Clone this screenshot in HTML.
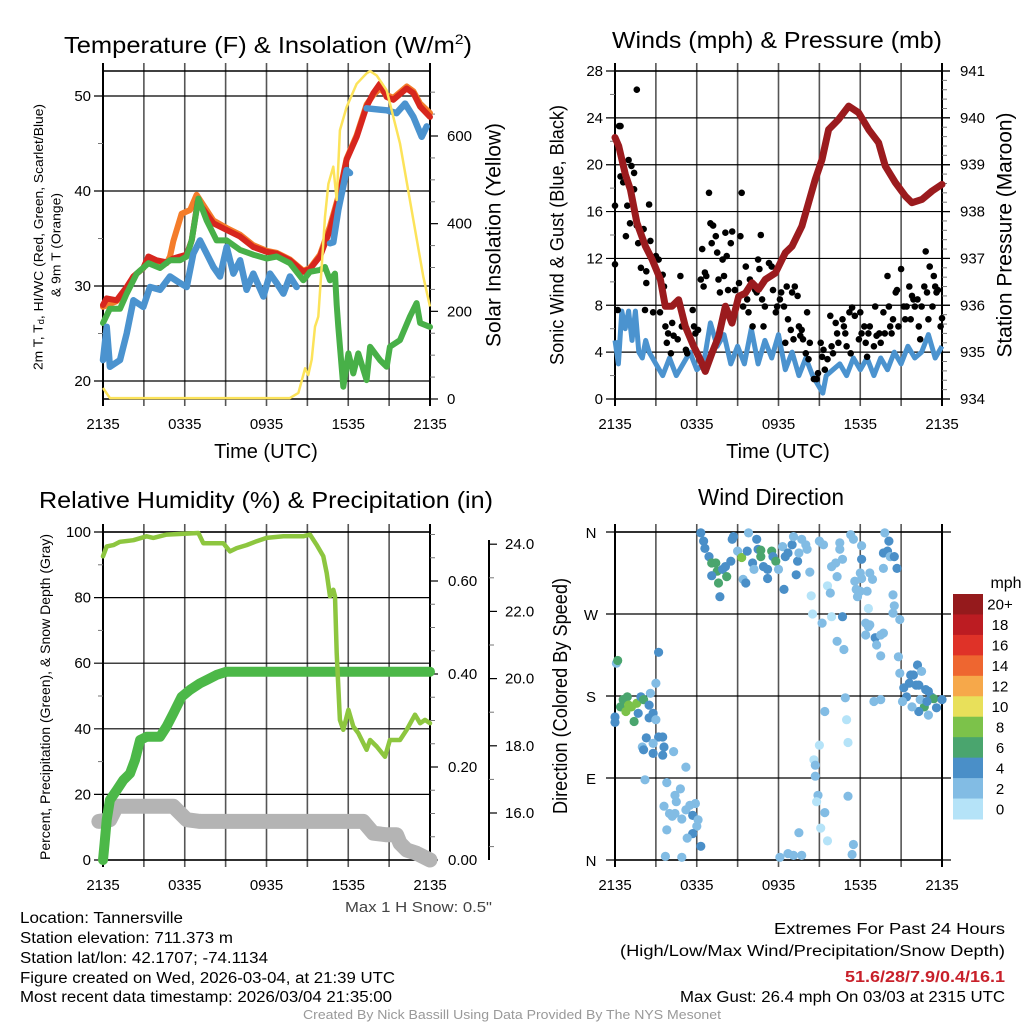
<!DOCTYPE html>
<html><head><meta charset="utf-8"><title>Mesonet Meteogram - Tannersville</title>
<style>
html,body{margin:0;padding:0;background:#fff;}
svg{display:block;font-family:"Liberation Sans",Arial,sans-serif;}
</style></head>
<body>
<svg id="chart" xmlns="http://www.w3.org/2000/svg" width="1024" height="1024" viewBox="0 0 1024 1024">
<rect x="0" y="0" width="1024" height="1024" fill="#ffffff"/>
</svg>
<script>
// ===== Data: temperature panel (time in hours since 2135 UTC) =====
const tempT=[0,.27,1.0,1.74,2.23,2.96,3.33,3.94,4.67,5.16,5.65,6.14,6.51,6.95,8.1,9.08,10.06,11.03,12.01,12.75,13.72,14.7,15.19,15.93,16.66,17.39,17.88,18.62,19.35,19.84,20.33,20.82,21.31,22.29,22.78,23.27,24];
const tempV=[28.0,28.7,28.5,29.9,31.0,31.9,33.1,32.7,32.5,32.9,33.1,33.3,34.8,38.9,36.6,35.9,35.2,34.1,33.6,33.4,32.7,31.5,31.8,33.1,35.9,39.8,43.3,45.7,48.9,50.3,51.3,49.9,49.6,50.8,50.3,48.9,47.8];
const t9T=[0,1.0,1.74,2.23,2.96,3.33,3.94,4.67,4.92,5.16,5.77,6.39,6.87,8.1,9.08,10.06,11.03,12.01,12.75,13.72,14.7,15.19,15.93,16.66,17.39,17.88,18.62,19.35,19.84,20.33,20.82,21.31,22.29,22.78,23.27,24];
const t9V=[27.8,28.4,29.8,31.0,31.9,33.0,32.6,32.4,33.1,34.7,37.6,38.0,39.6,36.9,36.1,35.4,34.3,33.7,33.5,32.8,31.6,31.9,33.3,36.3,40.0,43.4,45.9,49.1,50.1,50.8,50.1,49.8,51.0,50.5,49.2,48.2];
const tdT=[0,.51,1.25,1.74,2.47,3.33,4.18,4.92,5.65,6.14,6.51,7.0,7.61,8.34,9.08,10.06,11.03,12.01,12.75,13.72,14.7,15.19,15.93,16.29,16.66,17.03,17.15,17.27,17.64,18.01,18.37,18.74,19.35,19.6,20.33,20.82,21.06,21.8,22.53,23.02,23.27,24];
const tdV=[26.1,27.6,27.6,29.2,31.3,32.4,31.9,32.7,32.7,33.1,34.8,39.2,36.9,34.8,34.8,33.8,33.3,32.9,33.1,32.4,30.6,31.5,31.7,32.0,30.6,31.3,28,25.7,19.4,22.9,20.8,22.9,20.1,23.6,22.2,21.5,23.6,24.3,26.8,28.2,26.1,25.7];
const wcT=[0,.27,.51,1.25,1.74,2.23,2.96,3.45,4.18,4.92,5.65,6.14,6.63,7.12,7.61,8.1,8.59,9.08,9.57,10.06,10.54,11.03,11.77,12.26,12.75,13.24,13.72,14.21,14.5,16.66,16.9,17.27,17.88,18.13,18.5,19.35,20.82,21.55,22.17,22.78,23.39,23.76];
const wcV=[22.2,25.7,21.5,22.2,25.0,28.5,27.8,29.9,29.6,31.0,30.3,29.9,33.4,34.8,33.4,32.0,31.0,34.1,31.3,32.7,29.6,31.3,28.9,31.3,30.3,29.2,31.0,29.9,null,34.5,34.6,38.0,42.2,41.9,null,48.7,48.5,48.2,49.2,47.8,45.7,46.8];
const solarT=[0,.51,13.72,14.34,14.83,15.07,15.32,15.56,15.8,16.05,16.29,16.54,16.9,17.15,17.39,17.88,18.62,19.35,19.6,20.09,20.82,21.8,22.78,23.51,24];
const solarV=[25,2,2,14,70,55,90,165,188,302,416,491,530,454,613,666,719,743,748,738,704,583,408,279,211];
// ===== Data: wind / pressure panel =====
const presT=[0,.27,.76,1.13,1.61,2.23,2.72,3.33,3.69,4.18,4.67,5.16,5.77,6.26,6.63,7.12,7.61,8.1,8.59,9.08,9.57,10.06,10.54,11.03,11.77,12.5,13,13.72,14.21,14.7,15.19,15.68,16.42,17.15,17.88,18.62,19.35,19.84,20.57,21.31,21.8,22.53,23.27,24];
const presV=[939.58,939.4,938.79,938.47,937.76,937.26,936.98,936.55,935.98,935.98,936.12,935.55,935.13,934.84,934.59,934.98,935.34,935.98,935.62,936.19,936.26,936.48,936.34,936.55,936.69,937.12,937.26,937.69,938.19,938.69,939.11,939.75,939.97,940.25,940.11,939.75,939.47,938.97,938.62,938.33,938.19,938.26,938.44,938.58];
const windT=[0,.25,.5,.75,1,1.25,1.5,1.75,2,2.25,2.5,3,3.5,4,4.5,5,5.5,6,6.5,7,7.5,8,8.5,9,9.5,10,10.5,11,11.5,12,12.5,13,13.5,14,14.5,15,15.25,15.5,16,16.5,17,17.5,18,18.5,19,19.5,20,20.5,21,21.5,22,22.5,23,23.5,24];
const windV=[5,3,7.5,6,7.5,5,7.5,4,3.5,5,4,3,2,3.5,2,3,4,2.5,3,6.5,4.5,5.5,3,4.5,3,6,3,5,3.5,5.5,2.5,4,2,3.5,2,1,0.5,2,2.5,3,2,3.5,2.5,3.5,2,3.5,2.5,4,3,4.5,3.5,4,5.5,3.5,4.5];
const gustT=[0,0,.2,.3,.4,.4,.6,1,1.2,1.4,1.6,1.4,.9,.8,1.1,1.6,1.7,1.9,2.1,2.2,2.3,2.3,2.5,2.6,2.8,3,3.2,3.3,3.5,3.6,3.7,3.8,3.9,4.1,4.2,4.3,4.6,4.8,4.9,5.2,5.3,5.7,5.8,5.9,6.1,6.3,6.4,6.5,6.6,6.7,6.9,7,7.1,7.2,7.4,7.5,7.6,7.7,7.9,8,8.1,8.2,8.3,8.5,8.6,8.8,9.1,9.2,9.3,9.4,9.6,9.7,9.8,9.9,10.1,10.3,10.4,10.5,10.6,10.7,10.8,10.9,11,11.3,11.5,11.6,11.8,11.9,12.1,12.2,12.4,12.5,12.6,12.7,12.9,13,13.1,13.2,13.4,13.5,13.6,13.7,13.8,14,14.1,14.2,14.3,14.6,14.8,14.9,15.1,15.2,15.3,15.4,15.6,15.8,15.9,16,16.2,16.3,16.4,16.7,16.8,16.9,17,17.2,17.3,17.4,17.6,17.9,18,18.1,18.3,18.4,18.5,18.6,18.7,19,19.1,19.2,19.4,19.5,19.7,19.8,20,20.1,20.2,20.3,20.4,20.6,20.7,20.8,21,21.2,21.3,21.4,21.6,21.7,21.8,21.9,22,22.2,22.3,22.4,22.5,22.7,22.8,22.9,23,23.1,23.3,23.4,23.5,23.6,23.7,23.9,24];
const gustV=[16.5,11.5,7.6,23.3,23.3,19,18.5,20.4,19.9,19.3,26.4,17.9,16.5,13.9,15,14.8,13.3,11.2,14.5,7.6,9.9,10.9,16.6,13.5,7.4,12.2,11.9,7.4,10.6,9.6,6.2,4.8,5.6,3.9,6.5,5.4,5.1,10.5,6.2,4.2,3.9,7.6,6.2,5.6,5.9,10.2,12.8,9.6,10.8,10.5,17.6,15,13.3,14.8,13.9,12.5,10.2,9.1,11.9,10.5,14.2,12.2,9.3,13.3,14.3,9.3,9.9,13.9,17.6,7.9,11.3,8.5,7.4,10.2,6.2,9.3,9.1,11.9,11.1,14,8.5,6.2,7.9,11.6,11.3,9.3,7.4,7.9,8.5,9.1,7.9,4.8,9.6,6.8,5.9,9.1,5.1,9.6,8.8,6.2,5.4,5.9,5.1,3.9,7.4,3.4,4.8,1.7,1.7,2.2,4.8,3.6,4.2,2.5,3.4,7.1,4.5,3.9,6.5,5.6,4.8,6.8,6.2,5.6,4.5,7.4,3.9,7.8,7.1,5.1,7.4,5.6,6.2,4.8,3.6,5.6,6.2,4.5,7.9,5.4,5.6,4.8,7.4,5.6,10.5,7.9,6.2,5.6,6.8,9.1,9.3,6.2,11.1,7.9,6.8,7.9,9.6,6.8,8.8,8.5,7.9,8.5,6.2,5.1,7.9,9.6,12.6,9.1,6.8,11.3,7.9,10.5,9.6,9.1,9.3,6.2,6.9];
// ===== Data: RH / precip / snow panel =====
const rhT=[0,.27,.76,1.25,2.23,3.2,3.69,4.67,6.14,7.0,7.36,8.1,8.83,9.32,9.81,10.54,11.28,12.01,13.24,14.7,15.19,15.68,16.17,16.42,16.66,16.9,17.03,17.15,17.39,17.64,18.01,18.37,18.74,19.35,19.6,20.09,20.7,21.06,21.8,22.29,22.9,23.27,23.63,24];
const rhV=[92.6,95.6,96,97,97.5,98.7,98.2,99.2,99.5,99.7,96.6,96.6,96.6,94.1,95.1,96,97.2,98.2,98.7,98.7,99.2,96.1,92.6,87.5,80.4,82.4,80.4,63.1,42.7,39.7,45.8,40.7,38.7,33.6,36.6,34.6,31.5,36.6,36.6,39.7,44.3,41.7,42.7,41.7];
const precipT=[0,.12,.27,.51,1.0,1.5,1.98,2.35,2.72,3.2,4.18,4.67,5.16,5.77,6.39,7.12,7.61,8.34,9.08,24];
const precipV=[0,.036,.086,.129,.15,.172,.186,.215,.258,.265,.265,.287,.315,.351,.366,.38,.387,.398,.405,.405];
const snowT=[-0.3,.51,1.0,1.25,5.16,6.14,7.12,19.1,19.84,20.82,21.55,21.8,22.29,23.02,24];
const snowV=[15.75,15.8,16.2,16.2,16.2,15.8,15.75,15.75,15.4,15.35,15.35,15.1,14.9,14.8,14.6];
// ===== Data: wind direction panel =====
const dirT=[0,0,0.1,0.2,0.4,0.6,0.9,0.8,1.0,1.2,1.6,1.4,1.9,2.1,1.7,2.5,2.6,2.5,2.8,3.0,3.0,3.2,2.3,3.2,3.5,2.0,2.1,2.8,2.8,3.6,3.5,4.3,5.2,2.2,3.8,3.6,4.0,4.2,4.4,4.8,4.4,4.5,4.9,5.2,5.5,5.7,5.9,6.0,5.7,5.3,3.8,6.3,3.7,4.9,6.1,
6.3,6.5,6.6,6.9,7.1,7.4,7.5,7.1,7.6,7.7,7.9,8.1,8.2,8.5,8.7,8.6,9.0,9.3,9.4,9.6,9.8,9.7,10.1,10.2,10.4,10.5,10.7,10.7,10.9,11.2,11.2,11.5,11.6,11.8,12.0,12.3,12.5,12.7,13.0,13.1,13.4,13.3,12.4,13.5,13.7,14.0,14.1,14.3,14.4,14.5,15.0,15.3,15.6,15.8,15.9,16.2,16.3,15.9,16.5,16.7,16.7,16.3,16.8,16.5,15.2,17.3,17.5,17.6,17.7,17.8,18.0,18.0,18.1,18.1,18.1,18.5,18.6,18.7,18.9,18.4,18.6,18.4,18.7,19.1,19.2,19.5,19.7,19.5,19.8,20.1,20.0,19.7,20.2,20.5,20.7,19.7,20.4,20.5,20.4,20.9,20.8,20.9,21.2,21.4,21.6,21.7,21.9,22.2,22.5,22.1,22.3,22.8,23.0,23.2,23.4,22.7,22.4,22.9,23.6,24.0,23.0,22.3,21.8,21.1,19.0,19.5,16.9,17.0,15.4,15.0,14.6,14.7,14.7,14.9,14.8,15.4,15.1,15.6,17.1,17.1,13.5,17.5,17.4,12.1,12.7,13.1,13.7,13.9];
const dirD=[151,157,216,219,168,176,179,163,170,168,172,152,179,176,161,170,183,156,161,154,194,228,134,135,135,124,121,128,117,124,115,119,102,88,85,59,51,48,51,78,71,64,45,55,60,49,62,37,29,24,33,15,4,3,44,
359,350,342,333,326,326,317,312,304,289,319,322,311,328,355,352,339,332,308,304,359,339,326,319,352,341,340,333,322,319,309,339,333,328,319,344,333,337,346,355,328,313,297,337,352,346,341,316,290,270,350,346,301,293,322,326,311,267,348,330,267,240,231,341,260,357,352,306,297,289,315,295,345,330,309,295,276,315,308,260,256,247,258,244,236,247,249,224,359,350,339,337,333,333,320,320,291,279,271,264,223,205,189,179,194,203,203,214,207,192,192,187,185,179,177,168,176,174,167,176,159,163,168,174,174,176,178,154,163,126,110,104,92,71,64,52,35,21,129,70,30,17,6,3,7,5,5,4];
const dirS=[4,4,2,6,6,6,6,8,8,8,8,6,4,6,4,4,2,4,4,2,2,4,4,4,4,2,4,2,4,4,4,2,2,2,2,2,2,2,2,2,2,2,2,2,2,4,2,2,4,2,2,4,2,2,2,
4,4,4,4,6,6,6,4,6,4,4,4,6,4,4,4,2,8,2,4,2,4,4,2,4,4,6,6,4,4,4,6,4,6,2,2,4,4,4,2,4,4,4,2,2,2,2,2,0,0,2,2,0,2,2,2,2,0,2,2,4,2,2,2,2,2,2,2,2,2,2,2,2,4,2,2,0,2,2,2,2,2,2,4,2,2,2,2,2,4,4,4,2,4,4,2,2,2,2,2,2,2,4,4,4,4,4,4,2,4,4,4,4,4,6,6,2,4,4,4,2,4,2,2,2,2,2,0,2,0,0,2,2,2,0,2,0,0,0,2,2,2,2,2,2,2,2];
// ===== Axis tick labels / legend =====
const timeLabels=['2135','0335','0935','1535','2135'];
const speedLabels=['0','2','4','6','8','10','12','14','16','18','20+'];
const speedColors=['#b5e3f8','#82bce4','#4a8fc8','#4aa56e','#7cc24a','#e8e05a','#f6a84a','#ee6630','#df3228','#bc1c22','#951a1c'];
const dirLabels=['N','E','S','W','N'];

const NS='http://www.w3.org/2000/svg';
const svg=document.getElementById('chart');
function el(tag,attrs,parent){const e=document.createElementNS(NS,tag);for(const k in attrs)e.setAttribute(k,attrs[k]);(parent||svg).appendChild(e);return e;}
function tx(x,y,s,size,anchor,fill,parent){const e=el('text',{x:x,y:y,'font-size':size,'text-anchor':anchor||'start',fill:fill||'#000'},parent);e.textContent=s;return e;}
function rtx(cx,cy,s,size,len,parent){const e=el('text',{x:cx,y:cy,'font-size':size,'text-anchor':'middle','dominant-baseline':'central',transform:'rotate(-90 '+cx+' '+cy+')'},parent);if(len){e.setAttribute('textLength',len);e.setAttribute('lengthAdjust','spacingAndGlyphs');}e.textContent=s;return e;}
function pathD(ts,vs,fx,fy){let d='',pen=false;const n=Math.min(ts.length,vs.length);for(let i=0;i<n;i++){if(vs[i]===null||vs[i]===undefined){pen=false;continue;}d+=(pen?'L':'M')+fx(ts[i]).toFixed(1)+' '+fy(vs[i]).toFixed(1);pen=true;}return d;}

function frame(g,L,R,T,B,key){
  for(let i=0;i<=8;i++){
    const x=L+i*(R-L)/8;
    const ln=el('line',{x1:x,x2:x,y1:T-8,y2:B+7,stroke:(i===0||i===8)?'#000':'#555',"stroke-width":(i===0||i===8)?2:1.6},g);
    
    
    if(i%2===0){
      const t=tx(x,B+30,timeLabels[i/2],15,'middle','#000',g);
      
      
    }
  }
  const top=el('line',{x1:L,x2:R,y1:T,y2:T,stroke:'#000','stroke-width':1.5},g);
  
  
  const bot=el('line',{x1:L,x2:R,y1:B,y2:B,stroke:'#000','stroke-width':1.5},g);
  
  
}
function leftAxis(g,L,R,majors,minors,fy,labelFmt,key,ext){
  majors.forEach(v=>{
    const y=fy(v);
    const ln=el('line',{x1:L-9,x2:R+(ext||0),y1:y,y2:y,stroke:'#000','stroke-width':1.2},g);
    
    
    const t=tx(L-12,y+5,labelFmt(v),15,'end','#000',g);
    
    
  });
  minors.forEach(v=>{
    const y=fy(v);
    const ln=el('line',{x1:L-5,x2:L,y1:y,y2:y,stroke:'#777','stroke-width':1},g);
    
    
  });
}
function rightAxis(g,X0,majors,minors,fy,labelFmt,key,lx){
  majors.forEach(v=>{
    const y=fy(v);
    const ln=el('line',{x1:X0,x2:X0+8,y1:y,y2:y,stroke:'#000','stroke-width':1.2},g);
    
    
    const t=tx(lx,y+5,labelFmt(v),15,'start','#000',g);
    
    
  });
  minors.forEach(v=>{
    const y=fy(v);
    const ln=el('line',{x1:X0,x2:X0+5,y1:y,y2:y,stroke:'#777','stroke-width':1},g);
    
    
  });
}
function range(a,b,s){const r=[];for(let v=a;v<=b+1e-9;v+=s)r.push(Math.round(v*1000)/1000);return r;}

// ================= PANEL 1 =================
(function(){
  const L=103,R=430,T=71,B=399;
  const g=el('g',{});
  
  
  const fx=t=>L+t/24*(R-L);
  const fy=v=>96+(50-v)*9.5;
  const fs=v=>B-v*(263/600);
  frame(g,L,R,T,B,'temp');
  leftAxis(g,L,R,[20,30,40,50],[25,35,45],fy,v=>String(v),'temp-y');
  const ra=el('line',{x1:R,x2:R,y1:T,y2:B,stroke:'#000','stroke-width':2},g);
  
  
  rightAxis(g,R,[0,200,400,600],range(50,700,50).filter(v=>v%200!==0),fs,v=>String(v),'solar-y',R+17);
  const series=[[t9T,t9V,'#f47c2a',6,'9m-temperature-line'],[tempT,tempV,'#d7261e',6,'2m-temperature-line'],[tdT,tdV,'#48b048',6,'dewpoint-line'],[wcT,wcV,'#4b93cf',6.5,'wind-chill-line']];
  series.forEach(s=>{
    const p=el('path',{d:pathD(s[0],s[1],fx,fy),fill:'none',stroke:s[2],'stroke-width':s[3],'stroke-linejoin':'round','stroke-linecap':'round'},g);
    
    
  });
  const sp=el('path',{d:pathD(solarT,solarV,fx,fs),fill:'none',stroke:'#fce35a','stroke-width':2.5,'stroke-linejoin':'round'},g);
  
  
  const ti=el('text',{x:268,y:53,'font-size':23,'text-anchor':'middle',textLength:408,lengthAdjust:'spacingAndGlyphs'},g);
  ti.innerHTML='Temperature (F) &amp; Insolation (W/m<tspan font-size="14" dy="-9">2</tspan><tspan dy="9">)</tspan>';
  
  
  const xt=tx(266,458,'Time (UTC)',20,'middle','#000',g);
  
  
  const y1=el('text',{x:38,y:237,'font-size':13,'text-anchor':'middle','dominant-baseline':'central',transform:'rotate(-90 38 237)',textLength:266,lengthAdjust:'spacingAndGlyphs'},g);
  y1.innerHTML='2m T, T<tspan font-size="9" dy="3">d</tspan><tspan dy="-3">, HI/WC (Red, Green, Scarlet/Blue)</tspan>';
  
  
  const y2=rtx(56,245,'& 9m T (Orange)',13,104,g);
  
  
  const y3=rtx(494,235,'Solar Insolation (Yellow)',21,224,g);
  
  
})();

// ================= PANEL 2 =================
(function(){
  const L=615,R=942,T=71,B=399;
  const g=el('g',{});
  
  
  const fx=t=>L+t/24*(R-L);
  const fy=v=>B-v*(328/28);
  const fp=p=>B-(p-934)*(328/7);
  frame(g,L,R,T,B,'wind');
  leftAxis(g,L,R,[0,4,8,12,16,20,24,28],range(2,26,4),fy,v=>String(v),'wind-y',8);
  const ra=el('line',{x1:R,x2:R,y1:T,y2:B,stroke:'#000','stroke-width':2},g);
  
  
  rightAxis(g,R,range(934,941,1),range(934.2,940.8,0.2).filter(v=>Math.abs(v-Math.round(v))>0.01),fp,v=>String(v),'pressure-y',R+18);
  const wp=el('path',{d:pathD(windT,windV,fx,fy),fill:'none',stroke:'#4b93cf','stroke-width':5,'stroke-linejoin':'round'},g);
  
  
  const gg=el('g',{},g);
  
  
  const n=Math.min(gustT.length,gustV.length);
  for(let i=0;i<n;i++){
    const c=el('circle',{cx:fx(gustT[i]).toFixed(1),cy:fy(gustV[i]).toFixed(1),r:3.3,fill:'#000'},gg);
    
    
  }
  const pp=el('path',{d:pathD(presT,presV,fx,fp),fill:'none',stroke:'#9b1b1e','stroke-width':7,'stroke-linejoin':'round','stroke-linecap':'round'},g);
  
  
  const ti=el('text',{x:777,y:48,'font-size':23,'text-anchor':'middle',textLength:330,lengthAdjust:'spacingAndGlyphs'},g);
  ti.textContent='Winds (mph) & Pressure (mb)';
  
  
  const xt=tx(778,458,'Time (UTC)',20,'middle','#000',g);
  
  
  const y1=rtx(558,235,'Sonic Wind & Gust (Blue, Black)',19,260,g);
  
  
  const y2=rtx(1005,235,'Station Pressure (Maroon)',21,245,g);
  
  
})();

// ================= PANEL 3 =================
(function(){
  const L=103,R=430,T=532,B=860;
  const g=el('g',{});
  
  
  const fx=t=>L+t/24*(R-L);
  const fy=v=>B-v*3.28;
  const fpr=v=>B-v*465;
  const fsn=v=>813-(v-16)*33.6;
  frame(g,L,R,T,B,'rh');
  leftAxis(g,L,R,[0,20,40,60,80,100],[10,30,50,70,90],fy,v=>String(v),'rh-y');
  const ra=el('line',{x1:R,x2:R,y1:T,y2:B,stroke:'#000','stroke-width':2},g);
  
  
  rightAxis(g,R,[0,0.2,0.4,0.6],range(0.05,0.7,0.05).filter(v=>Math.abs(v*5-Math.round(v*5))>0.01),fpr,v=>v.toFixed(2),'precip-y',R+18);
  const sa=el('line',{x1:489,x2:489,y1:T+8,y2:B,stroke:'#000','stroke-width':2},g);
  
  
  rightAxis(g,489,[16,18,20,22,24],[15,17,19,21,23],fsn,v=>v.toFixed(1),'snow-y',505);
  const sp=el('path',{d:pathD(snowT,snowV,fx,fsn),fill:'none',stroke:'#b4b4b4','stroke-width':15,'stroke-linejoin':'round','stroke-linecap':'round'},g);
  
  
  const pp=el('path',{d:pathD(precipT,precipV,fx,fpr),fill:'none',stroke:'#4cb848','stroke-width':10,'stroke-linejoin':'round','stroke-linecap':'round'},g);
  
  
  const rp=el('path',{d:pathD(rhT,rhV,fx,fy),fill:'none',stroke:'#8dc63f','stroke-width':4.5,'stroke-linejoin':'round','stroke-linecap':'round'},g);
  
  
  const ti=el('text',{x:266,y:508,'font-size':23,'text-anchor':'middle',textLength:454,lengthAdjust:'spacingAndGlyphs'},g);
  ti.textContent='Relative Humidity (%) & Precipitation (in)';
  
  
  const y1=rtx(45,697,'Percent, Precipitation (Green), & Snow Depth (Gray)',14,326,g);
  
  
  const ms=el('text',{x:492,y:912,'font-size':15,'text-anchor':'end',fill:'#444',textLength:147,lengthAdjust:'spacingAndGlyphs'},g);
  ms.textContent='Max 1 H Snow: 0.5"';
  
  
})();

// ================= PANEL 4 =================
(function(){
  const L=615,R=942,T=532,B=860;
  const g=el('g',{});
  
  
  const fx=t=>L+t/24*(R-L);
  const fd=d=>B-d*(328/360);
  frame(g,L,R,T,B,'dir');
  [0,90,180,270,360].forEach((d,i)=>{
    const y=fd(d);
    const ln=el('line',{x1:L-9,x2:R+9,y1:y,y2:y,stroke:'#000','stroke-width':1.2},g);
    
    
    const t=tx(591,y+6,dirLabels[i],15,'middle','#000',g);
    
    
  });
  const dg=el('g',{},g);
  
  
  const n=Math.min(dirT.length,dirD.length,dirS.length);
  for(let i=0;i<n;i++){
    const ci=Math.min(10,Math.floor((dirS[i]+1)/2));
    const c=el('circle',{cx:fx(dirT[i]).toFixed(1),cy:fd(dirD[i]).toFixed(1),r:4.6,fill:speedColors[ci]},dg);
    
    
  }
  const ti=el('text',{x:771,y:505,'font-size':23,'text-anchor':'middle',textLength:146,lengthAdjust:'spacingAndGlyphs'},g);
  ti.textContent='Wind Direction';
  
  
  const y1=rtx(561,696,'Direction (Colored By Speed)',20,236,g);
  
  
  const cb=el('g',{},g);
  
  
  const top=594,bh=(819-594)/11;
  for(let i=0;i<11;i++){
    const k=10-i;
    const r=el('rect',{x:953,y:(top+i*bh).toFixed(2),width:30,height:(bh+0.5).toFixed(2),fill:speedColors[k]},cb);
    
    
    const t=tx(1000,top+i*bh+bh/2+5.5,speedLabels[k],15,'middle','#000',cb);
    
    
  }
  const mph=tx(1006,588,'mph',16,'middle','#000',cb);
  
  
})();

// ================= Footer text =================
(function(){
  const g=el('g',{});
  
  
  const left=[['Location: Tannersville',923,163,'location-text'],['Station elevation: 711.373 m',943,213,'elevation-text'],['Station lat/lon: 42.1707; -74.1134',963,248,'latlon-text'],['Figure created on Wed, 2026-03-04, at 21:39 UTC',983,375,'figure-created-text'],['Most recent data timestamp: 2026/03/04 21:35:00',1002,372,'data-timestamp-text']];
  left.forEach(a=>{
    const t=el('text',{x:20,y:a[1],'font-size':15.5,textLength:a[2],lengthAdjust:'spacingAndGlyphs'},g);
    t.textContent=a[0];
    
    
  });
  const right=[['Extremes For Past 24 Hours',934,231,'#000','normal','extremes-heading'],['(High/Low/Max Wind/Precipitation/Snow Depth)',956,385,'#000','normal','extremes-legend'],['51.6/28/7.9/0.4/16.1',982,160,'#c8202a','bold','extremes-values'],['Max Gust: 26.4 mph On 03/03 at 2315 UTC',1002,325,'#000','normal','max-gust-text']];
  right.forEach(a=>{
    const t=el('text',{x:1005,y:a[1],'font-size':15.5,'text-anchor':'end',fill:a[3],'font-weight':a[4],textLength:a[2],lengthAdjust:'spacingAndGlyphs'},g);
    t.textContent=a[0];
    
    
  });
  const cr=el('text',{x:512,y:1019,'font-size':12.5,'text-anchor':'middle',fill:'#999',textLength:418,lengthAdjust:'spacingAndGlyphs'},g);
  cr.textContent='Created By Nick Bassill Using Data Provided By The NYS Mesonet';
  
  
})();
</script>
</body></html>
